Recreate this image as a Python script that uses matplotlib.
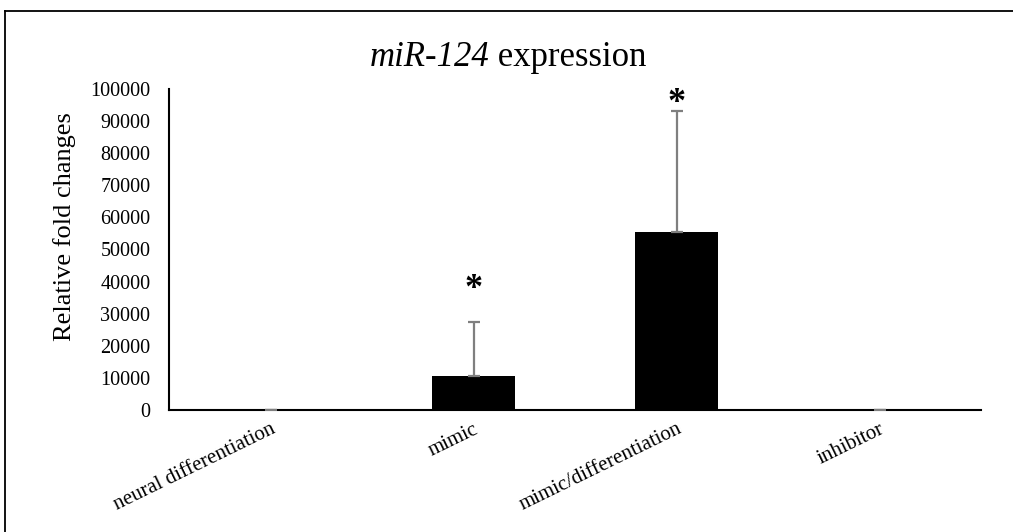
import matplotlib
matplotlib.use("Agg")
import matplotlib.pyplot as plt
from matplotlib.lines import Line2D

categories = ["neural differentiation", "mimic", "mimic/differentiation", "inhibitor"]
values = [1, 10700, 55300, 1]
errors = [1, 16800, 37800, 1]
star_heights = [None, 37600, 95500, None]
yticks = [0, 10000, 20000, 30000, 40000, 50000, 60000, 70000, 80000, 90000, 100000]

plt.rcParams["font.family"] = ["Liberation Serif", "DejaVu Serif"]

W, H = 1013, 532
fig = plt.figure(figsize=(W / 100, H / 100), dpi=100)
ax = fig.add_axes([169 / W, 1 - 410 / H, (981 - 169) / W, (410 - 89) / H])

x = list(range(len(categories)))
ax.bar(x, values, width=0.41, color="black", edgecolor="none", zorder=2)
ax.errorbar(x, values, yerr=[[0] * len(errors), errors], fmt="none",
            ecolor="#7f7f7f", elinewidth=1.6, capsize=4.3, capthick=1.6, zorder=3)

for xi, h in zip(x, star_heights):
    if h is not None:
        ax.text(xi, h, "*", ha="center", va="center",
                fontsize=26, fontweight="bold")

ax.set_xlim(-0.5, len(categories) - 0.5)
ax.set_ylim(0, 100000)
ax.set_yticks(yticks)
ax.set_yticklabels([str(t) for t in yticks], fontsize=14.5)
ax.tick_params(axis="y", length=0, pad=13.5)
ax.tick_params(axis="x", length=0, pad=7)
ax.set_xticks(x)
ax.set_xticklabels(categories, fontsize=15, rotation=26, ha="right",
                   rotation_mode="anchor")

for side in ("top", "right"):
    ax.spines[side].set_visible(False)
for side in ("left", "bottom"):
    ax.spines[side].set_linewidth(1.5)

ax.set_ylabel("Relative fold changes", fontsize=19)
ax.yaxis.set_label_coords(-0.115, 0.57)

title_y = 1 - 57 / H
fig.text(489 / W, title_y, "miR-124", ha="right", va="center",
         fontsize=25, style="italic")
fig.text(489 / W, title_y, " expression", ha="left", va="center", fontsize=25)

# outer frame (left and top edges)
fig.add_artist(Line2D([5 / W, 5 / W], [0, 1 - 11 / H], transform=fig.transFigure,
                      color="black", linewidth=1.3))
fig.add_artist(Line2D([5 / W, 1], [1 - 11 / H, 1 - 11 / H], transform=fig.transFigure,
                      color="black", linewidth=1.3))

fig.savefig("out.png", dpi=100)
